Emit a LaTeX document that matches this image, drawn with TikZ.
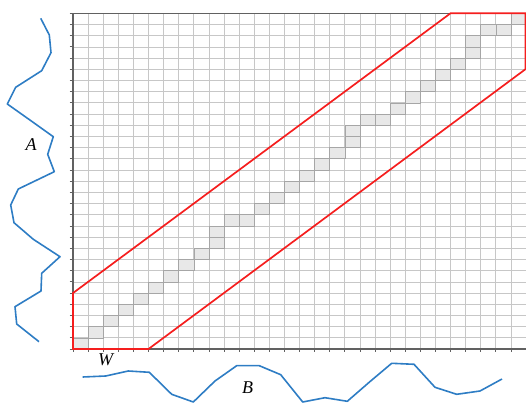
\documentclass[tikz,border=0pt]{standalone}
\usepackage{fontspec}
\setmainfont{Liberation Serif}
\definecolor{seriesblue}{RGB}{46,125,196}
\definecolor{bandred}{RGB}{245,30,30}
\begin{document}
\begin{tikzpicture}[x=1pt,y=1pt,
  gridline/.style={draw=black!22, line width=0.7pt},
  axisline/.style={draw=black!62, line width=1.2pt},
  tickline/.style={draw=black!62, line width=0.8pt},
  cellfill/.style={fill=black!9, draw=black!35, line width=0.6pt},
  band/.style={draw=bandred, line width=1.7pt, line join=miter},
  series/.style={draw=seriesblue, line width=1.6pt, line join=round},
  lbl/.style={font=\fontsize{18}{18}\selectfont\itshape, inner sep=0pt}]
\useasboundingbox (-73,-54) rectangle (453,349);
% grid
\foreach \k in {0,...,30} {
  \draw[gridline] (\k*15.1,0) -- (\k*15.1,335.7);
  \draw[gridline] (0,\k*11.19) -- (453,\k*11.19);
}
% warping path cells
\foreach \i/\j in {0/0,1/1,2/2,3/3,4/4,5/5,6/6,7/7,8/8,9/9,9/10,10/11,11/11,12/12,13/13,14/14,15/15,16/16,17/17,18/18,18/19,19/20,20/20,21/21,22/22,23/23,24/24,25/25,26/26,26/27,27/28,28/28,29/29}
  \filldraw[cellfill] (\i*15.1,\j*11.19) rectangle ++(15.1,11.19);
% ticks
\foreach \k in {0,...,30} {
  \draw[tickline] (-3.5,\k*11.19) -- (0,\k*11.19);
  \draw[tickline] (\k*15.1,0) -- (\k*15.1,-3.5);
}
% axes
\draw[axisline] (0,335.7) -- (0,0) -- (453,0);
\draw[axisline] (0,335.7) -- (453,335.7);
% Sakoe-Chiba band
\draw[band] (0,5*11.19) -- (25*15.1,335.7) -- (452.4,335.7) -- (452.4,25*11.19) -- (5*15.1,0) -- (0,0) -- cycle;
% series A
\draw[series] (-32.3,330.7) -- (-23.7,314) -- (-22,296.3) -- (-31.3,278.3) -- (-57.3,261.7) -- (-65.7,245) -- (-42.7,228.7) -- (-19.7,212.3) -- (-25.3,194.7) -- (-18.7,177.3) -- (-54.7,160) -- (-62.3,144) -- (-59,126.3) -- (-39.7,109.7) -- (-13,92.3) -- (-31.3,75.7) -- (-32,58) -- (-58,42.3) -- (-56.3,25) -- (-34,7.3);
% series B
\draw[series] (9.7,-28) -- (32.7,-27) -- (55.3,-22) -- (76.3,-23.3) -- (98.7,-45.3) -- (120.3,-53) -- (142,-32) -- (163.7,-16.7) -- (186.3,-16.7) -- (207.7,-25.7) -- (229.7,-53) -- (252,-48.7) -- (274.3,-52.3) -- (296.5,-33) -- (318.7,-14.3) -- (341,-15.3) -- (362,-38.3) -- (383.7,-45.3) -- (407,-42) -- (429,-30);
% labels
\node[lbl] (labA) at (-42,204) {A};
\node[lbl] (labB) at (174.5,-39) {B};
\node[lbl] (labW) at (32.5,-10.5) {W};
\end{tikzpicture}
\end{document}
